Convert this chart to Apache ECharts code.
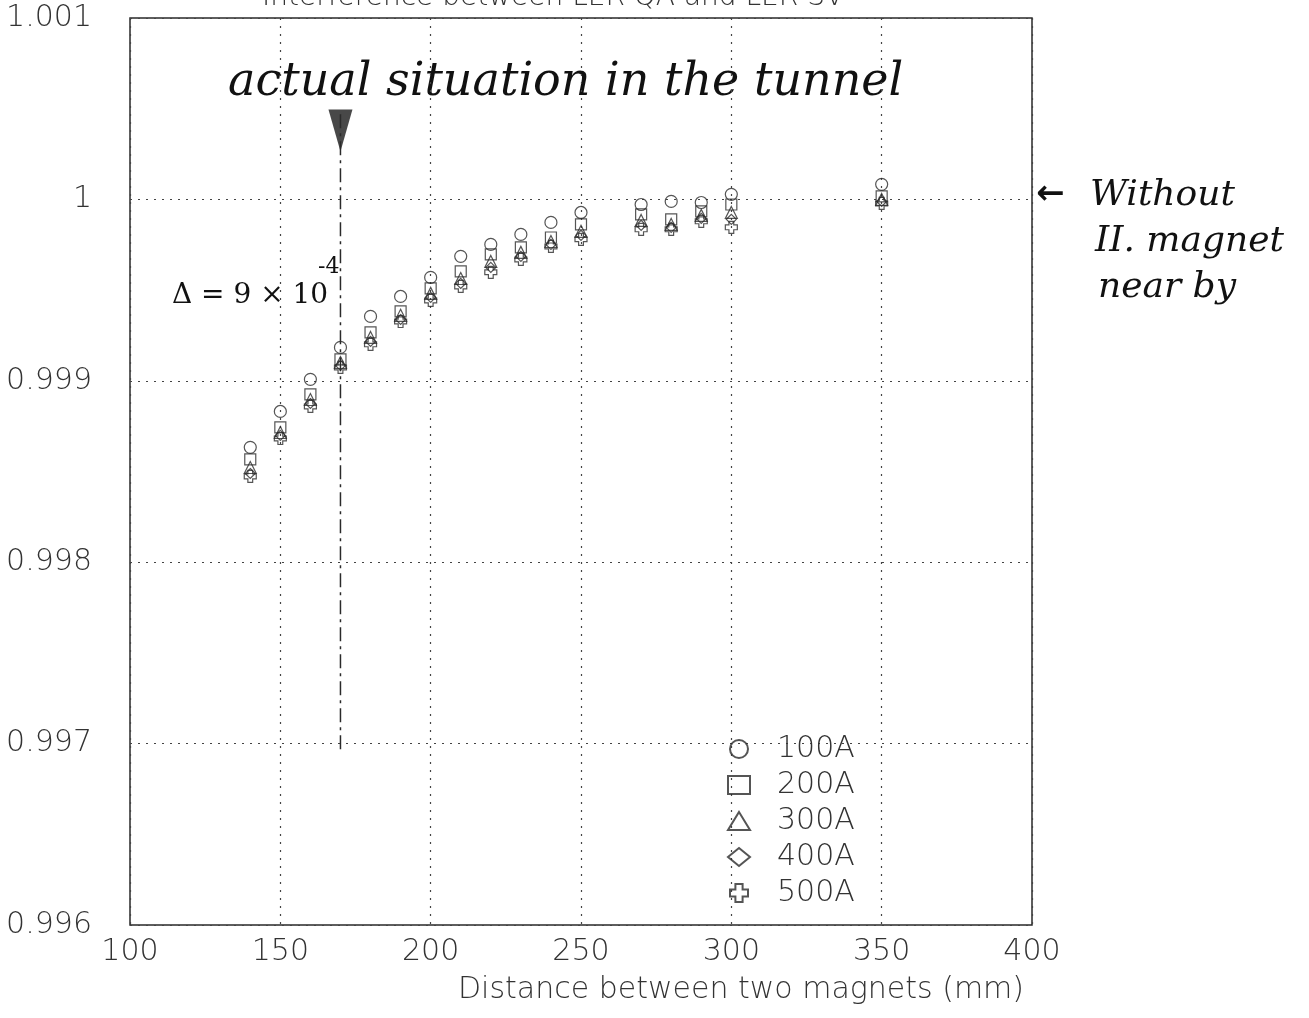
<!DOCTYPE html>
<html>
<head>
<meta charset="utf-8">
<script src="https://cdn.jsdelivr.net/npm/echarts@6/dist/echarts.min.js"></script>
<style>
  html,body{margin:0;padding:0;background:#fff;}
  #chart{width:1309px;height:1018px;}
</style>
</head>
<body>
<div id="chart"></div>
<script>
  // distance between the two magnets (mm)
  var distances = [140,150,160,170,180,190,200,210,220,230,240,250,270,280,290,300,350]

  // field ratio for each current
  var ratio100A = [0.998633,0.998831,0.999008,0.999184,0.999355,0.999465,0.999570,0.999686,0.999752,0.999807,0.999873,0.999928,0.999972,0.999989,0.999983,1.000028,1.000083]
  var ratio200A = [0.998567,0.998743,0.998925,0.999118,0.999267,0.999383,0.999509,0.999603,0.999697,0.999735,0.999790,0.999862,0.999917,0.999890,0.999934,0.999972,1.000017]
  var ratio300A = [0.998522,0.998715,0.998897,0.999101,0.999239,0.999361,0.999482,0.999564,0.999658,0.999708,0.999768,0.999824,0.999884,0.999862,0.999912,0.999928,1.000000]
  var ratio400A = [0.998489,0.998699,0.998875,0.999085,0.999217,0.999338,0.999460,0.999537,0.999625,0.999686,0.999752,0.999802,0.999857,0.999846,0.999895,0.999890,0.999989]
  var ratio500A = [0.998473,0.998682,0.998859,0.999074,0.999201,0.999327,0.999443,0.999520,0.999598,0.999669,0.999741,0.999780,0.999835,0.999835,0.999879,0.999846,0.999978]

  var currents = ['100A','200A','300A','400A','500A']

  // the "actual situation" marker
  var markerX = 170
  var markerTop = 1.00047
  var markerBottom = 0.99696
  var arrowY = 1.00038

  var crossPath = 'path://M3,0 L7,0 L7,3 L10,3 L10,7 L7,7 L7,10 L3,10 L3,7 L0,7 L0,3 L3,3 Z'
  var symbols = ['circle','rect','triangle','diamond',crossPath]
  var sizes = [12,11,12,10,12]
  var allRatios = [ratio100A,ratio200A,ratio300A,ratio400A,ratio500A]

  var ink = '#2a2a2a'
  var font = 'DejaVu Sans'

  var chart = echarts.init(document.getElementById('chart'))

  var series = []
  currents.forEach(function (name,i) {
    var pts = []
    distances.forEach(function (d,j) {
      pts.push([d,allRatios[i][j]])
    })
    series.push({
      name:name,
      type:'scatter',
      symbol:symbols[i],
      symbolSize:sizes[i],
      itemStyle:{color:'rgba(255,255,255,0)',borderColor:ink,borderWidth:1.2},
      data:pts
    })
  })

  series.push({
    name:'marker',
    type:'line',
    symbol:'none',
    silent:true,
    lineStyle:{color:ink,width:1.5,type:[14,5,3,5]},
    data:[[markerX,markerTop],[markerX,markerBottom]]
  })
  series.push({
    name:'arrow',
    type:'scatter',
    symbol:'triangle',
    symbolRotate:180,
    symbolSize:[24,42],
    silent:true,
    itemStyle:{color:'#1a1a1a'},
    data:[[markerX,arrowY]]
  })

  var option = {
    animation:false,
    backgroundColor:'#fff',
    grid:{left:130,right:277,top:18,bottom:93,show:true,borderColor:ink,borderWidth:1.5},
    xAxis:{
      type:'value',min:100,max:400,interval:50,
      axisLine:{show:false},
      axisTick:{show:false},
      axisLabel:{color:'#333',fontFamily:font,fontWeight:200,fontSize:30,margin:12},
      splitLine:{show:true,lineStyle:{color:'#444',width:1.2,type:[2,6]}}
    },
    yAxis:{
      type:'value',min:0.996,max:1.001,interval:0.001,
      axisLine:{show:false},
      axisTick:{show:false},
      axisLabel:{color:'#333',fontFamily:font,fontWeight:200,fontSize:30,margin:38,
        formatter:function (v) {return String(parseFloat(v.toFixed(3)))}},
      splitLine:{show:true,lineStyle:{color:'#444',width:1.2,type:[2,6]}}
    },
    legend:{
      data:currents,
      orient:'vertical',
      left:722,top:729,
      itemWidth:22,itemHeight:18,itemGap:6,
      textStyle:{color:'#333',fontFamily:font,fontWeight:200,fontSize:30,lineHeight:30,padding:[0,0,0,22]}
    },
    graphic:[
      {type:'text',left:262,top:-16,style:{text:'Interference between LER QA and LER SV',fill:'#333',font:'200 28px "DejaVu Sans"'}},
      {type:'text',left:458,top:975,style:{text:'Distance between two magnets (mm)',fill:'#333',font:'200 30px "DejaVu Sans"'}},
      {type:'text',left:228,top:60,style:{text:'actual situation in the tunnel',fill:'#111',font:'italic 46px "DejaVu Serif"'}},
      {type:'text',left:172,top:282,style:{text:'Δ = 9 × 10',fill:'#111',font:'28px "DejaVu Serif"'}},
      {type:'text',left:318,top:256,style:{text:'-4',fill:'#111',font:'22px "DejaVu Serif"'}},
      {type:'text',left:1036,top:178,style:{text:'←',fill:'#111',font:'bold 34px "DejaVu Sans"'}},
      {type:'text',left:1090,top:178,style:{text:'Without',fill:'#111',font:'italic 36px "DejaVu Serif"'}},
      {type:'text',left:1095,top:224,style:{text:'II. magnet',fill:'#111',font:'italic 36px "DejaVu Serif"'}},
      {type:'text',left:1098,top:270,style:{text:'near by',fill:'#111',font:'italic 36px "DejaVu Serif"'}}
    ],
    series:series
  }

  chart.setOption(option)
</script>
</body>
</html>
